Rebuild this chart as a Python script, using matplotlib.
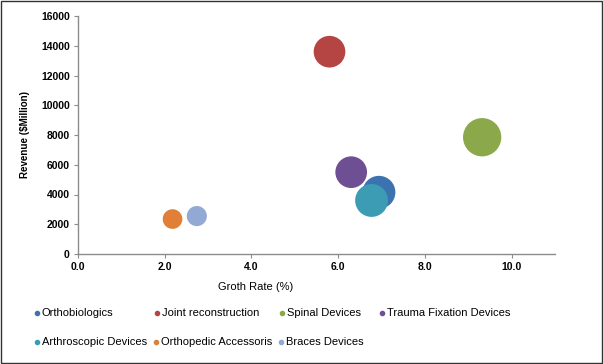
import matplotlib

matplotlib.use("Agg")
import matplotlib.pyplot as plt  # noqa: E402
from matplotlib.lines import Line2D  # noqa: E402
from matplotlib.patches import Rectangle  # noqa: E402

segments = ["Orthobiologics", "Joint reconstruction", "Spinal Devices", "Trauma Fixation Devices",
            "Arthroscopic Devices", "Orthopedic Accessoris", "Braces Devices"]
growth = [6.94, 5.8, 9.32, 6.3, 6.77, 2.18, 2.74]
revenue = [4150, 13600, 7850, 5500, 3600, 2350, 2550]
bubble = [560, 520, 760, 520, 560, 200, 210]
colors = ["#3d72b0", "#b54542", "#8ba94a", "#6f4f93", "#3b9cb3", "#e07f35", "#92a9d3"]

x_ticks = [0, 2, 4, 6, 8, 10]
y_ticks = list(range(0, 16001, 2000))

# legend entry positions in pixels (Excel lays them out by hand)
legend_xy = [(37, 313), (157, 313), (282, 313), (382, 313),
             (37, 342), (156, 342), (281, 342)]

W, H = 603, 364
plt.rcParams["font.family"] = ["Liberation Sans", "DejaVu Sans"]

fig = plt.figure(figsize=(W / 100, H / 100), dpi=100)
ax = fig.add_axes([78 / W, 1 - 254 / H, (555 - 78) / W, (254 - 16) / H])

for x, y, s, c in zip(growth, revenue, bubble, colors):
    ax.scatter(x, y, s=s, color=c, edgecolors="none", zorder=3)

ax.set_xlim(0, 11)
ax.set_ylim(0, 16000)
ax.set_xticks(x_ticks)
ax.set_xticklabels([f"{v:.1f}" for v in x_ticks], fontsize=7.5, fontweight="bold")
ax.set_yticks(y_ticks)
ax.set_yticklabels([str(v) for v in y_ticks], fontsize=7.5, fontweight="bold")
ax.tick_params(length=3, width=0.8, color="#8c8c8c", pad=3)
for side in ("top", "right"):
    ax.spines[side].set_visible(False)
for side in ("left", "bottom"):
    ax.spines[side].set_color("#8c8c8c")
    ax.spines[side].set_linewidth(1)

ax.set_xlabel("Groth Rate (%)", fontsize=8)
ax.xaxis.set_label_coords((256 - 78) / (555 - 78), -(287 - 254) / (254 - 16), transform=ax.transAxes)
ax.xaxis.label.set_va("center")
ax.set_ylabel("Revenue ($Million)", fontsize=7, fontweight="bold")
ax.yaxis.set_label_coords(-(78 - 25) / (555 - 78), 0.5)
ax.yaxis.label.set_va("center")

for (px, py), name, c in zip(legend_xy, segments, colors):
    fig.add_artist(Line2D([px / W], [1 - py / H], marker="o", markersize=3, color=c,
                          linestyle="none", transform=fig.transFigure))
    fig.text((px + 5) / W, 1 - py / H, name, fontsize=8, va="center", ha="left")

fig.patches.append(Rectangle((0.002, 0.003), 0.996, 0.994, transform=fig.transFigure,
                             fill=False, edgecolor="#333333", linewidth=1))

fig.savefig("out.png", dpi=100)
